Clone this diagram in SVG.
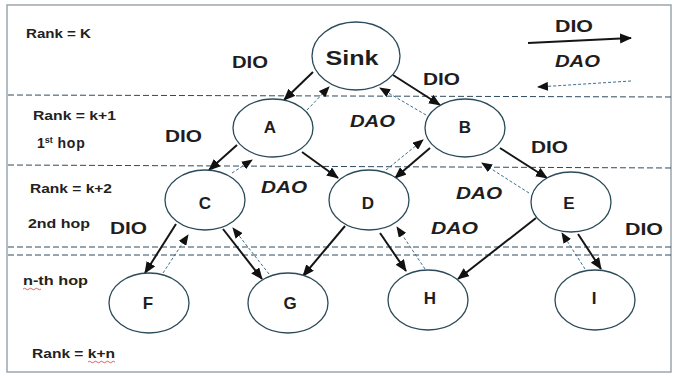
<svg xmlns="http://www.w3.org/2000/svg" width="678" height="376" viewBox="0 0 678 376">
  <defs>
    <marker id="headSolid" markerUnits="userSpaceOnUse" markerWidth="12" markerHeight="10" refX="11" refY="5" orient="auto">
      <path d="M0,0 L12,5 L0,10 Z" fill="#111"/>
    </marker>
    <marker id="headDash" markerUnits="userSpaceOnUse" markerWidth="11" markerHeight="9" refX="10" refY="4.5" orient="auto">
      <path d="M0,0 L11,4.5 L0,9 Z" fill="#111"/>
    </marker>
  </defs>
  <style>
    .frame { fill: #ffffff; stroke: #9aa6ac; stroke-width: 1.5; }
    .band { stroke: #2e4a5e; stroke-width: 1; stroke-dasharray: 6 3; fill: none; }
    .node ellipse { fill: #ffffff; stroke: #2b4a5a; stroke-width: 1.3; }
    .node text { font-family: "Liberation Sans", Arial, sans-serif; font-weight: bold; font-size: 17px; fill: #1e1e1e; text-anchor: middle; }
    .dio { stroke: #151515; stroke-width: 2; fill: none; marker-end: url(#headSolid); }
    .dao { stroke: #3d6f8a; stroke-width: 1; stroke-dasharray: 3 2; fill: none; marker-end: url(#headDash); }
    .msg { font-family: "Liberation Sans", Arial, sans-serif; font-weight: bold; font-size: 16px; fill: #1e1e1e; }
    .msg.it { font-style: italic; }
    .rank { font-family: "Liberation Sans", Arial, sans-serif; font-weight: bold; font-size: 12px; fill: #222; }
    .squiggle { stroke: #d23c3c; stroke-width: 0.8; fill: none; }
  </style>

  <!-- page frame -->
  <rect class="frame" x="7" y="5" width="664" height="367"/>

  <!-- rank band separators -->
  <g id="bands">
    <line class="band" x1="8" y1="95" x2="671" y2="97"/>
    <line class="band" x1="8" y1="165" x2="671" y2="168"/>
    <line class="band" x1="8" y1="247" x2="671" y2="247"/>
    <line class="band" x1="8" y1="255" x2="671" y2="255"/>
  </g>

  <!-- rank / hop labels -->
  <g id="rank-labels">
    <text class="rank" x="26" y="38" textLength="65" lengthAdjust="spacingAndGlyphs">Rank = K</text>
    <text class="rank" x="33" y="120" textLength="83" lengthAdjust="spacingAndGlyphs">Rank = k+1</text>
    <text class="rank" x="37" y="148" style="font-size:14px">1<tspan style="font-size:9px" dy="-5">st</tspan><tspan dy="5" letter-spacing="0.8"> hop</tspan></text>
    <text class="rank" x="30" y="193" textLength="82" lengthAdjust="spacingAndGlyphs">Rank = k+2</text>
    <text class="rank" x="28" y="228" textLength="62" lengthAdjust="spacingAndGlyphs">2nd hop</text>
    <text class="rank" x="23" y="285" textLength="65" lengthAdjust="spacingAndGlyphs">n-th hop</text>
    <text class="rank" x="32" y="358" textLength="83" lengthAdjust="spacingAndGlyphs">Rank = k+n</text>
    <path class="squiggle" d="M23,289 q1.5,-1.5 3,0 t3,0 t3,0 t3,0 t3,0 t3,0"/>
    <path class="squiggle" d="M88,362 q1.5,-1.5 3,0 t3,0 t3,0 t3,0 t3,0 t3,0 t3,0 t3,0 t3,0"/>
  </g>

  <!-- legend -->
  <g id="legend">
    <text class="msg" x="555" y="32" textLength="38" lengthAdjust="spacingAndGlyphs">DIO</text>
    <line class="dio" x1="528" y1="43" x2="631" y2="38"/>
    <text class="msg it" x="555" y="67" textLength="45" lengthAdjust="spacingAndGlyphs">DAO</text>
    <line class="dao" x1="631" y1="81" x2="538" y2="87"/>
  </g>

  <!-- connectors: DIO downward (solid), DAO upward (dashed) -->
  <g id="connectors">
    <line class="dio" x1="313" y1="72" x2="284" y2="100"/>
    <line class="dao" x1="307" y1="110" x2="329" y2="87"/>
    <line class="dio" x1="393" y1="75" x2="440" y2="105"/>
    <line class="dao" x1="426" y1="115" x2="380" y2="88"/>

    <line class="dio" x1="237" y1="145" x2="209" y2="170"/>
    <line class="dao" x1="232" y1="173" x2="252" y2="160"/>
    <line class="dio" x1="302" y1="152" x2="338" y2="178"/>

    <line class="dio" x1="430" y1="148" x2="395" y2="178"/>
    <line class="dao" x1="386" y1="170" x2="423" y2="140"/>
    <line class="dio" x1="500" y1="148" x2="547" y2="178"/>
    <line class="dao" x1="529" y1="193" x2="482" y2="163"/>

    <line class="dio" x1="176" y1="224" x2="145" y2="273"/>
    <line class="dao" x1="163" y1="273" x2="188" y2="235"/>
    <line class="dio" x1="223" y1="229" x2="262" y2="279"/>
    <line class="dao" x1="269" y1="274" x2="233" y2="228"/>

    <line class="dio" x1="345" y1="226" x2="303" y2="276"/>
    <line class="dio" x1="380" y1="233" x2="406" y2="271"/>
    <line class="dao" x1="425" y1="269" x2="397" y2="227"/>

    <line class="dio" x1="536" y1="218" x2="458" y2="279"/>
    <line class="dio" x1="578" y1="234" x2="601" y2="269"/>
    <line class="dao" x1="585" y1="269" x2="562" y2="233"/>
  </g>

  <!-- message labels -->
  <g id="message-labels">
    <text class="msg" x="232" y="68" textLength="36" lengthAdjust="spacingAndGlyphs">DIO</text>
    <text class="msg" x="423" y="85" textLength="37" lengthAdjust="spacingAndGlyphs">DIO</text>
    <text class="msg" x="165" y="142" textLength="37" lengthAdjust="spacingAndGlyphs">DIO</text>
    <text class="msg it" x="350" y="127" textLength="45" lengthAdjust="spacingAndGlyphs">DAO</text>
    <text class="msg" x="531" y="153" textLength="37" lengthAdjust="spacingAndGlyphs">DIO</text>
    <text class="msg it" x="261" y="193" textLength="46" lengthAdjust="spacingAndGlyphs">DAO</text>
    <text class="msg it" x="456" y="199" textLength="46" lengthAdjust="spacingAndGlyphs">DAO</text>
    <text class="msg it" x="431" y="234" textLength="47" lengthAdjust="spacingAndGlyphs">DAO</text>
    <text class="msg" x="110" y="234" textLength="37" lengthAdjust="spacingAndGlyphs">DIO</text>
    <text class="msg" x="625" y="235" textLength="38" lengthAdjust="spacingAndGlyphs">DIO</text>
  </g>

  <!-- nodes -->
  <g id="node-sink" class="node">
    <ellipse cx="356" cy="56" rx="44" ry="34"/>
    <text x="352" y="65" textLength="53" lengthAdjust="spacingAndGlyphs" style="font-size:21px">Sink</text>
  </g>
  <g id="node-a" class="node">
    <ellipse cx="273" cy="128" rx="40" ry="29"/>
    <text x="270" y="133">A</text>
  </g>
  <g id="node-b" class="node">
    <ellipse cx="465" cy="128" rx="40" ry="29"/>
    <text x="465" y="133">B</text>
  </g>
  <g id="node-c" class="node">
    <ellipse cx="205" cy="200" rx="40" ry="30"/>
    <text x="205" y="209">C</text>
  </g>
  <g id="node-d" class="node">
    <ellipse cx="369" cy="200" rx="40" ry="30"/>
    <text x="368" y="209">D</text>
  </g>
  <g id="node-e" class="node">
    <ellipse cx="571" cy="202" rx="40" ry="30"/>
    <text x="569" y="209">E</text>
  </g>
  <g id="node-f" class="node">
    <ellipse cx="149" cy="303" rx="40" ry="30"/>
    <text x="148" y="309">F</text>
  </g>
  <g id="node-g" class="node">
    <ellipse cx="288" cy="303" rx="40" ry="30"/>
    <text x="290" y="309">G</text>
  </g>
  <g id="node-h" class="node">
    <ellipse cx="428" cy="300" rx="40" ry="30"/>
    <text x="430" y="304">H</text>
  </g>
  <g id="node-i" class="node">
    <ellipse cx="595" cy="300" rx="40" ry="30"/>
    <text x="594" y="304">I</text>
  </g>
</svg>
